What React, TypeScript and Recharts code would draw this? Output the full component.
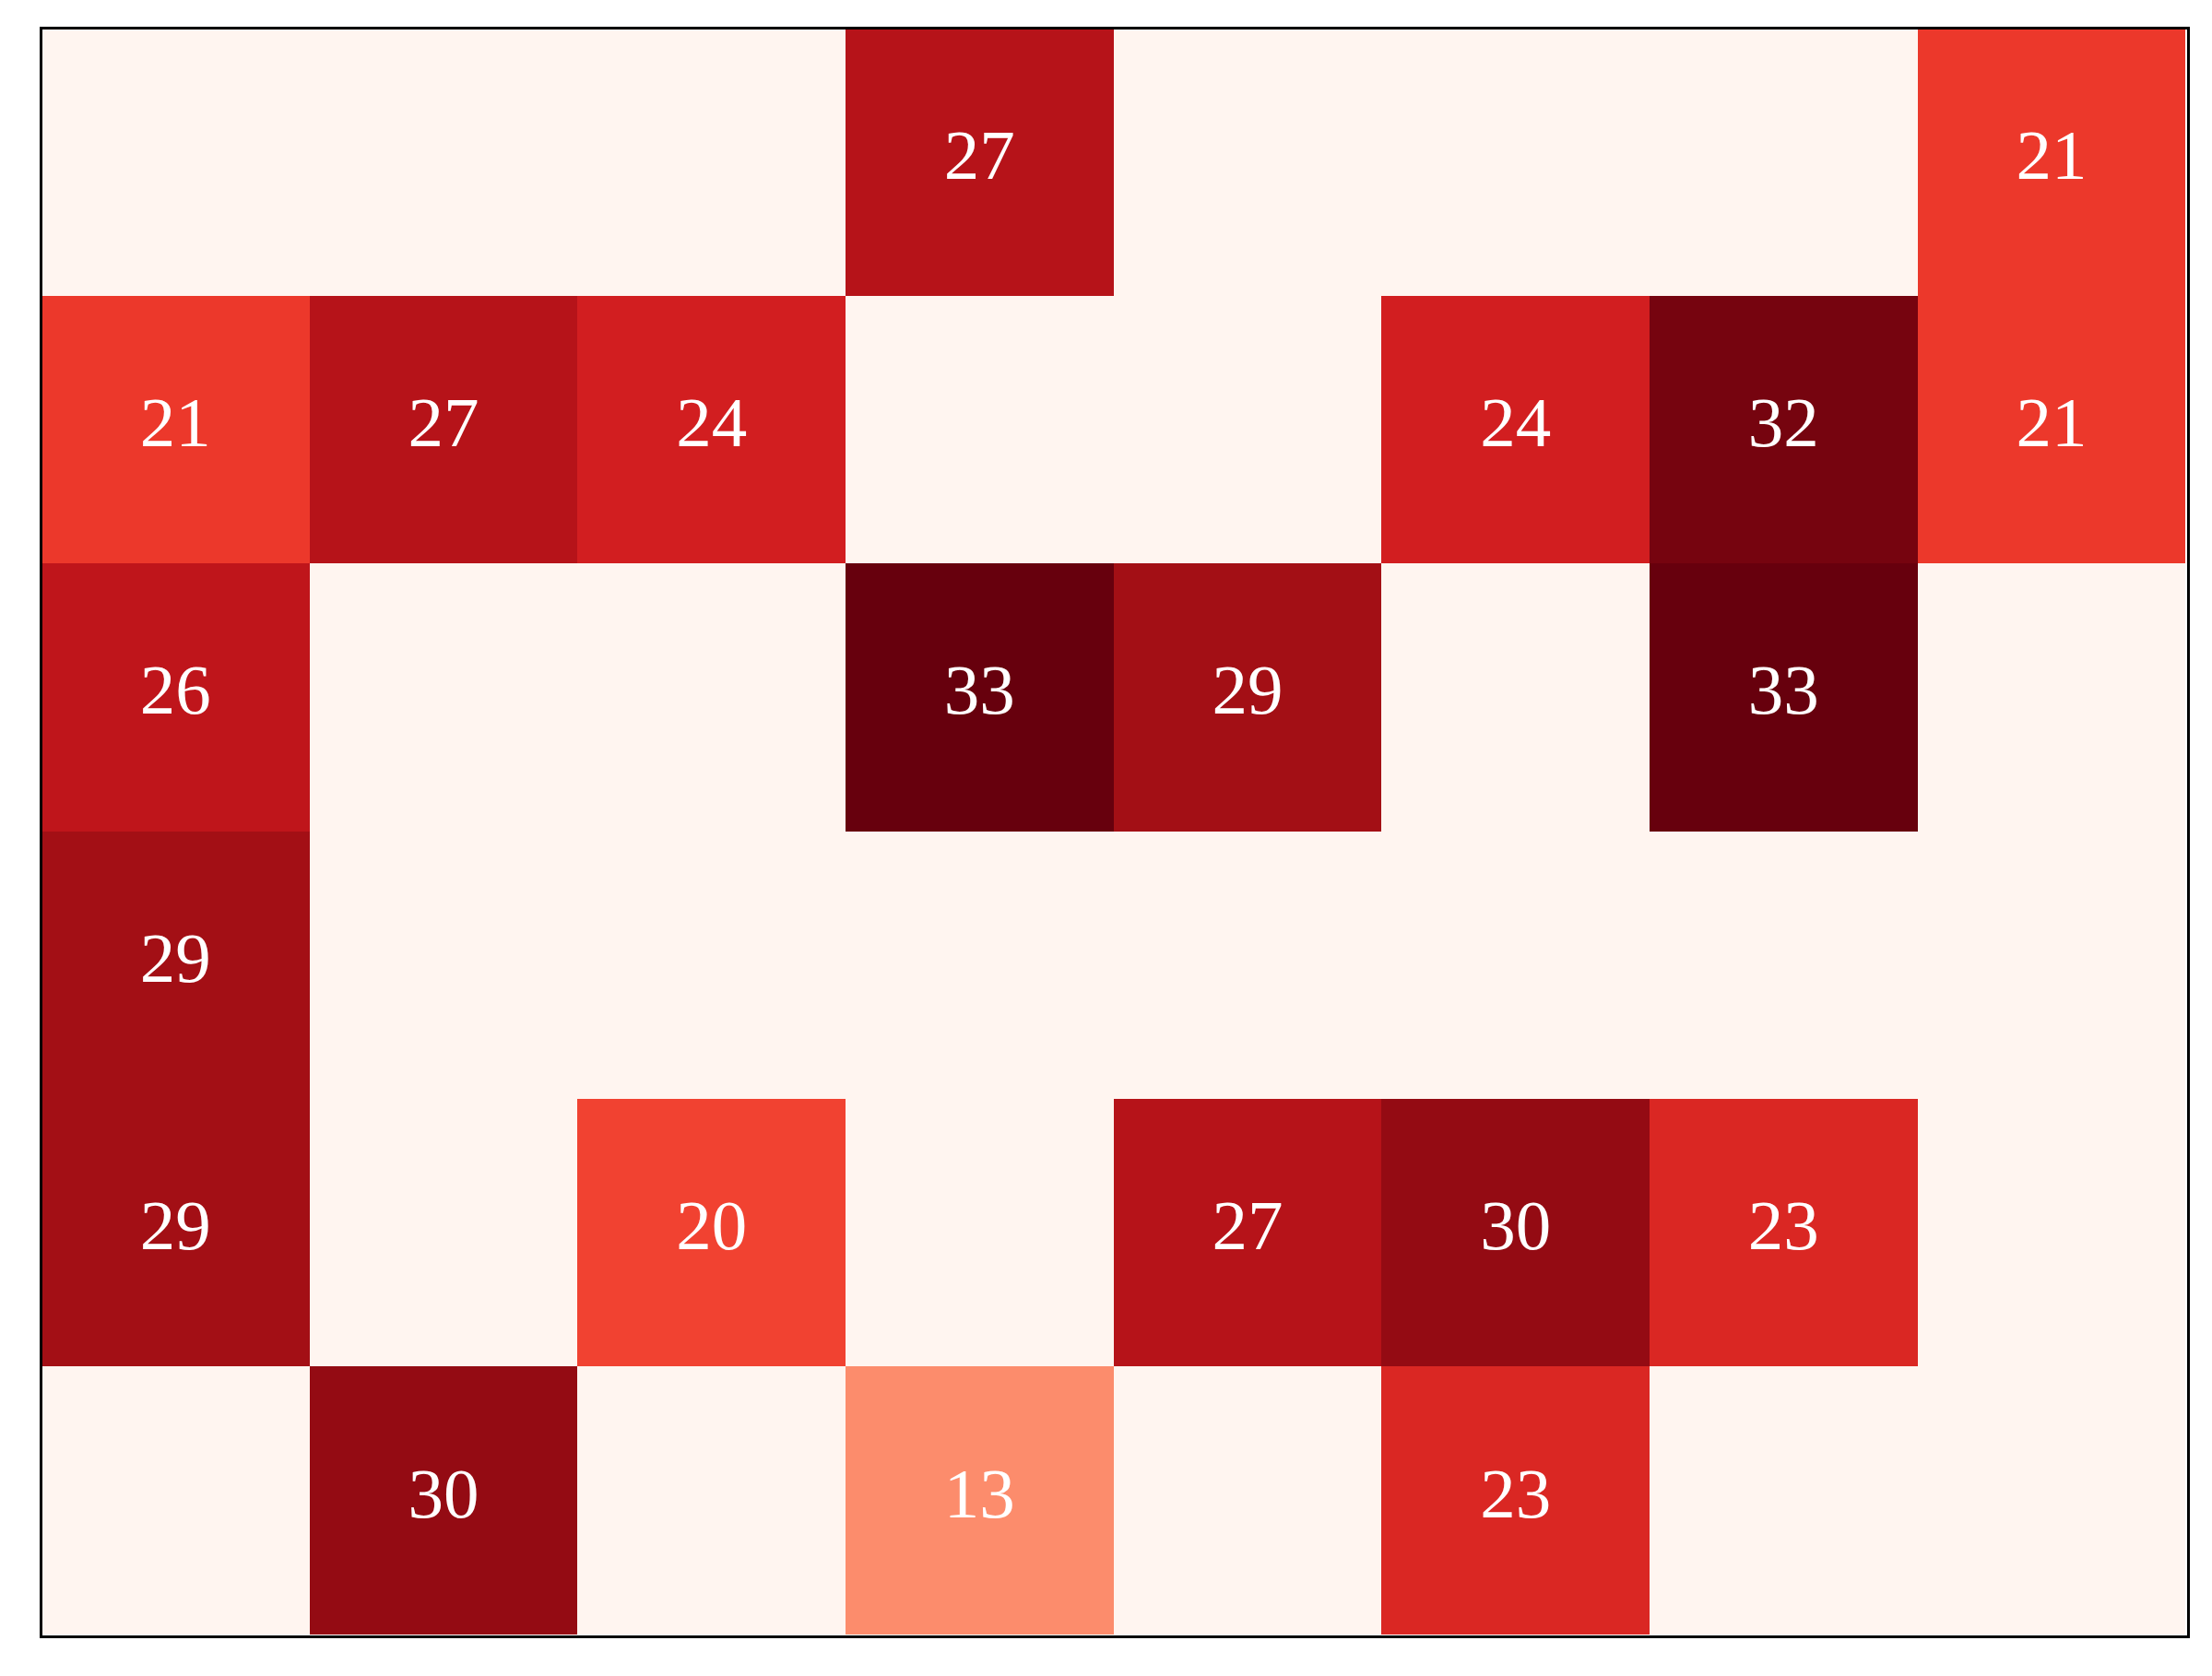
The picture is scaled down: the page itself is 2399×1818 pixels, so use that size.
import React from "react";
import { ScatterChart, Scatter, XAxis, YAxis } from "recharts";

// grid values, top row first; 0 means an empty cell
const ROW_0 = [0, 0, 0, 27, 0, 0, 0, 21];
const ROW_1 = [21, 27, 24, 0, 0, 24, 32, 21];
const ROW_2 = [26, 0, 0, 33, 29, 0, 33, 0];
const ROW_3 = [29, 0, 0, 0, 0, 0, 0, 0];
const ROW_4 = [29, 0, 20, 0, 27, 30, 23, 0];
const ROW_5 = [0, 30, 0, 13, 0, 23, 0, 0];

const ROWS = [ROW_0, ROW_1, ROW_2, ROW_3, ROW_4, ROW_5];
const N_COLS = 8;
const N_ROWS = ROWS.length;
const V_MIN = 0;
const V_MAX = 33;

const WIDTH = 2399;
const HEIGHT = 1818;
const MARGIN = { top: 30.3, left: 45, right: 28.7, bottom: 45.2 };
const CELL_W = (WIDTH - MARGIN.left - MARGIN.right) / N_COLS;
const CELL_H = (HEIGHT - MARGIN.top - MARGIN.bottom) / N_ROWS;

// matplotlib "Reds" stops
const REDS = [
  [255, 245, 240],
  [254, 224, 210],
  [252, 187, 161],
  [252, 146, 114],
  [251, 106, 74],
  [239, 59, 44],
  [203, 24, 29],
  [165, 15, 21],
  [103, 0, 13],
];

function reds(v: number) {
  const t = Math.max(0, Math.min(1, (v - V_MIN) / (V_MAX - V_MIN)));
  const p = t * (REDS.length - 1);
  const i = Math.min(Math.floor(p), REDS.length - 2);
  const f = p - i;
  const c = REDS[i].map((a, k) => Math.round(a + (REDS[i + 1][k] - a) * f));
  return `rgb(${c[0]},${c[1]},${c[2]})`;
}

const cells = ROWS.flatMap((row, r) =>
  row.map((value, c) => ({ x: c + 0.5, y: r + 0.5, value }))
);

const HeatCell = (props: any) => {
  const { cx, cy, payload } = props;
  return (
    <g>
      <rect
        x={cx - CELL_W / 2}
        y={cy - CELL_H / 2}
        width={CELL_W}
        height={CELL_H}
        fill={reds(payload.value)}
        shapeRendering="crispEdges"
      />
      {payload.value > 0 && (
        <text
          x={cx}
          y={cy + 18}
          textAnchor="middle"
          fill="#ffffff"
          style={{
            fontSize: 77,
            fontFamily: "Liberation Serif, Times New Roman, Times, serif",
          }}
        >
          {payload.value}
        </text>
      )}
    </g>
  );
};

export default function App() {
  return (
    <div
      style={{
        position: "absolute",
        left: 0,
        top: 0,
        width: WIDTH,
        height: HEIGHT,
        background: "#ffffff",
      }}
    >
      <ScatterChart width={WIDTH} height={HEIGHT} margin={MARGIN}>
        <XAxis type="number" dataKey="x" domain={[0, N_COLS]} hide />
        <YAxis type="number" dataKey="y" domain={[0, N_ROWS]} reversed hide />
        <Scatter data={cells} shape={HeatCell} isAnimationActive={false} />
      </ScatterChart>
      <div
        style={{
          position: "absolute",
          left: MARGIN.left - 1.7,
          top: MARGIN.top - 1.7,
          width: WIDTH - MARGIN.left - MARGIN.right,
          height: HEIGHT - MARGIN.top - MARGIN.bottom,
          border: "3.4px solid #000000",
          boxSizing: "content-box",
          pointerEvents: "none",
        }}
      />
    </div>
  );
}
